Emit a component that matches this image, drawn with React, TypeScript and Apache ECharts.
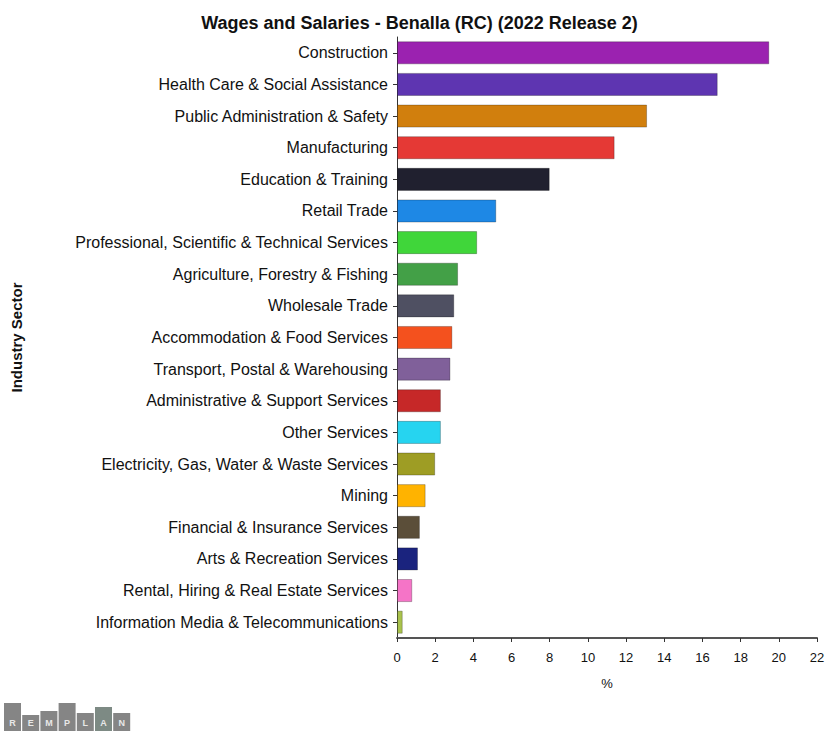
import React, { useEffect, useRef } from "react";
import * as echarts from "echarts";

const categories: string[] = [
  "Construction",
  "Health Care & Social Assistance",
  "Public Administration & Safety",
  "Manufacturing",
  "Education & Training",
  "Retail Trade",
  "Professional, Scientific & Technical Services",
  "Agriculture, Forestry & Fishing",
  "Wholesale Trade",
  "Accommodation & Food Services",
  "Transport, Postal & Warehousing",
  "Administrative & Support Services",
  "Other Services",
  "Electricity, Gas, Water & Waste Services",
  "Mining",
  "Financial & Insurance Services",
  "Arts & Recreation Services",
  "Rental, Hiring & Real Estate Services",
  "Information Media & Telecommunications",
];

const values: number[] = [
  19.5, 16.8, 13.1, 11.4, 8.0, 5.2, 4.2, 3.2, 3.0, 2.9, 2.8, 2.3, 2.3, 2.0, 1.5, 1.2, 1.1, 0.8, 0.3,
];

const barColors: string[] = [
  "#9b22b0",
  "#5e35b1",
  "#d17f0d",
  "#e53935",
  "#20202f",
  "#1e88e5",
  "#40d63a",
  "#43a047",
  "#4f5062",
  "#f4511e",
  "#80609a",
  "#c62828",
  "#26d4f0",
  "#9e9d24",
  "#ffb300",
  "#5b4e39",
  "#1a237e",
  "#f574c7",
  "#a9c24c",
];

const xTicks: number[] = [0, 2, 4, 6, 8, 10, 12, 14, 16, 18, 20, 22];

const logoLetters: string[] = ["R", "E", "M", "P", "L", "A", "N"];
const logoTops: number[] = [703, 715, 711, 703, 713, 707, 713];

const FONT = "'Liberation Sans', Arial, sans-serif";

export default function App() {
  const ref = useRef<HTMLDivElement>(null);
  useEffect(() => {
    if (!ref.current) return;
    const chart = echarts.init(ref.current, null, { renderer: "svg" });
    const logo: any[] = [];
    logoLetters.forEach((l, i) => {
      const x = 4 + i * 18.2;
      logo.push({
        type: "rect",
        shape: { x, y: logoTops[i], width: 17, height: 731 - logoTops[i] },
        style: { fill: i === 5 ? "#7d8a84" : "#858585" },
        z: 10,
      });
      logo.push({
        type: "text",
        x: x + 8.5,
        y: 723,
        style: {
          text: l,
          fill: "#e8e8e8",
          font: "bold 9px " + FONT,
          align: "center",
          verticalAlign: "middle",
        },
        z: 11,
      });
    });
    chart.setOption({
      animation: false,
      backgroundColor: "#ffffff",
      title: {
        text: "Wages and Salaries - Benalla (RC) (2022 Release 2)",
        left: "center",
        top: 9,
        textStyle: { fontFamily: FONT, fontSize: 18, fontWeight: "bold", color: "#111" },
      },
      grid: { left: 397, right: 22, top: 37, bottom: 93, containLabel: false },
      xAxis: {
        type: "value",
        min: 0,
        max: 22,
        interval: 2,
        name: "%",
        nameLocation: "middle",
        nameGap: 39,
        nameTextStyle: { fontFamily: FONT, fontSize: 13, color: "#111" },
        axisLine: { show: true, lineStyle: { color: "#555", width: 2 } },
        axisTick: { show: true, length: 4, lineStyle: { color: "#333" } },
        axisLabel: {
          fontFamily: FONT,
          fontSize: 13,
          color: "#111",
          margin: 13,
          formatter: (v: number) => (xTicks.includes(v) ? String(v) : ""),
        },
        splitLine: { show: false },
      },
      yAxis: {
        type: "category",
        inverse: true,
        data: categories,
        name: "Industry Sector",
        nameLocation: "middle",
        nameGap: 373,
        nameRotate: 90,
        nameTextStyle: { fontFamily: FONT, fontSize: 15, fontWeight: "bold", color: "#111" },
        axisLine: { show: true, lineStyle: { color: "#333", width: 1 } },
        axisTick: { show: true, alignWithLabel: true, length: 4, lineStyle: { color: "#333" } },
        axisLabel: { fontFamily: FONT, fontSize: 16, color: "#111", margin: 9 },
      },
      series: [
        {
          type: "bar",
          data: values.map((v, i) => ({
            value: v,
            itemStyle: {
              color: barColors[i],
              borderColor: "rgba(0,0,0,0.25)",
              borderWidth: 1,
            },
          })),
          barCategoryGap: "27%",
        },
      ],
      graphic: logo,
    });
    return () => chart.dispose();
  }, []);
  return (
    <div
      ref={ref}
      style={{ position: "absolute", left: 0, top: 0, width: 839, height: 731 }}
    />
  );
}
